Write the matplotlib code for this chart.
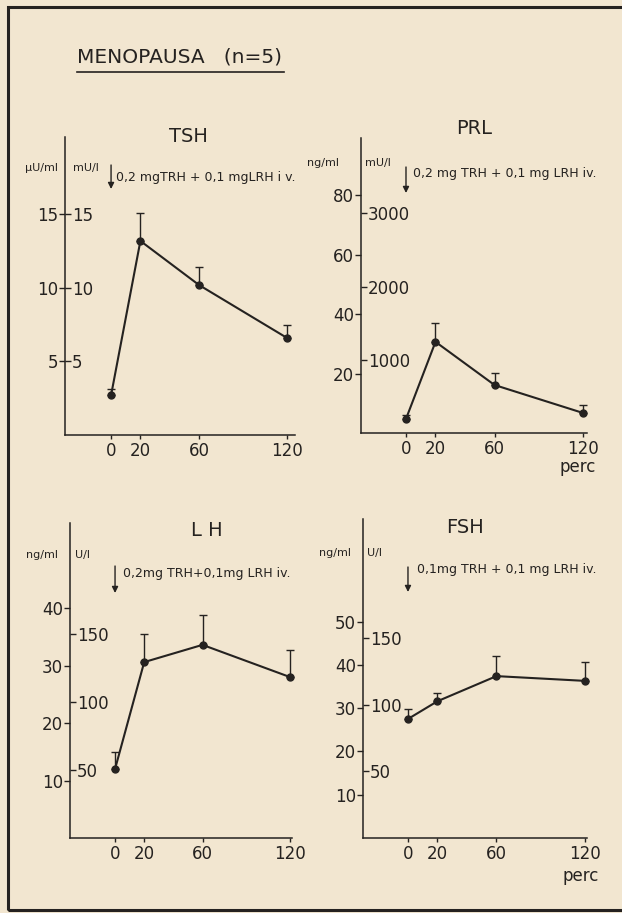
import matplotlib
matplotlib.use("Agg")
import matplotlib.pyplot as plt
from matplotlib.lines import Line2D
from matplotlib.patches import Rectangle
import numpy as np

W, H = 622, 913
BG = "#f2e6d0"
INK = "#252220"

plt.rcParams['font.family'] = ['DejaVu Sans']
plt.rcParams['text.color'] = INK

# ── data ──────────────────────────────────────────────────────────────
minutes = [0, 20, 60, 120]

tsh_mean = [2.7, 13.2, 10.2, 6.6]      # µU/ml
tsh_err = [0.4, 1.9, 1.2, 0.9]
prl_mean = [4.9, 30.8, 16.3, 6.9]      # ng/ml
prl_err = [1.3, 6.3, 4.0, 2.7]
lh_mean = [12.0, 30.6, 33.6, 28.0]     # ng/ml
lh_err = [3.0, 4.9, 5.2, 4.7]
fsh_mean = [27.5, 31.6, 37.4, 36.3]    # ng/ml
fsh_err = [2.3, 1.9, 4.6, 4.3]

tsh_ticks, tsh_ticks2 = [5, 10, 15], [5, 10, 15]
prl_ticks, prl_ticks2 = [20, 40, 60, 80], [1000, 2000, 3000]
lh_ticks, lh_ticks2 = [10, 20, 30, 40], [50, 100, 150]
fsh_ticks, fsh_ticks2 = [10, 20, 30, 40, 50], [50, 100, 150]

# ng/ml -> SI unit factor of the second scale
prl_k, lh_k, fsh_k, tsh_k = 40.5, 4.23, 3.25, 1.0


def fx(x):
    return x / W


def fy(y):
    return 1 - y / H


def ftext(x, y, s, size=9, ha='left', va='center', **kw):
    fig.text(fx(x), fy(y), s, fontsize=size, ha=ha, va=va, color=INK, **kw)


def panel(box, xlim, ylim, mean, err, ticks, ticks2, k, arrow):
    left, right, bottom, top = box
    ax = fig.add_axes([fx(left), fy(bottom), (right - left) / W, (bottom - top) / H])
    ax.set_facecolor('none')
    ax.set_xlim(*xlim)
    ax.set_ylim(*ylim)
    for s in ['top', 'right']:
        ax.spines[s].set_visible(False)
    for s in ['left', 'bottom']:
        ax.spines[s].set_color(INK)
        ax.spines[s].set_linewidth(1.1)
    ax.set_xticks(minutes)
    ax.set_yticks(ticks)
    ax.tick_params(colors=INK, labelcolor=INK, labelsize=12, length=4, width=1.0, pad=1)
    ax.tick_params(axis='x', length=3, pad=2)

    sec = ax.secondary_yaxis(0, functions=(lambda v: v * k, lambda v: v / k))
    sec.set_alignment('right')
    sec.spines['right'].set_visible(False)
    sec.set_yticks(ticks2)
    sec.tick_params(colors=INK, labelcolor=INK, labelsize=12, length=4, width=1.0, pad=1)

    ax.errorbar(minutes, mean, yerr=[np.zeros(len(err)), err], fmt='-o', color=INK,
                lw=1.5, ms=5, capsize=3, elinewidth=1.0, capthick=1.0, clip_on=False)

    # injection arrow at t = 0
    y_top, y_bot = arrow
    ax.annotate('', xy=(0, fy(y_bot)), xytext=(0, fy(y_top)),
                xycoords=('data', 'figure fraction'), textcoords=('data', 'figure fraction'),
                arrowprops=dict(arrowstyle='-|>', color=INK, lw=1.0, mutation_scale=9,
                                shrinkA=0, shrinkB=0))
    return ax


fig = plt.figure(figsize=(W / 100, H / 100), dpi=100)
fig.patch.set_facecolor(BG)

# frame of the page
fig.add_artist(Rectangle((fx(8), fy(910)), 1.2, fy(7) - fy(910), transform=fig.transFigure,
                         fill=False, ec=INK, lw=2.2))

ftext(77, 57, "MENOPAUSA   (n=5)", size=14.5, ha='left')
fig.add_artist(Line2D([fx(77), fx(284)], [fy(72), fy(72)], color=INK, lw=1.2))

# TSH
panel((65, 295, 435, 137), (-31.4, 125.4), (0, 20.27), tsh_mean, tsh_err,
      tsh_ticks, tsh_ticks2, tsh_k, (165, 189))
ftext(188, 137, "TSH", size=14, ha='center')
ftext(42, 168, "µU/ml", size=8, ha='center')
ftext(86, 168, "mU/l", size=8, ha='center')
ftext(116, 177, "0,2 mgTRH + 0,1 mgLRH i v.", size=9)

# PRL
panel((361, 587, 433.5, 138), (-30.5, 122.7), (0, 99.3), prl_mean, prl_err,
      prl_ticks, prl_ticks2, prl_k, (167, 193))
ftext(474, 128, "PRL", size=14, ha='center')
ftext(323, 163, "ng/ml", size=8, ha='center')
ftext(378, 163, "mU/l", size=8, ha='center')
ftext(413, 173, "0,2 mg TRH + 0,1 mg LRH iv.", size=9)
ftext(578, 467, "perc", size=12, ha='center')

# LH
panel((70, 292, 838, 523), (-30.9, 121.4), (0, 54.8), lh_mean, lh_err,
      lh_ticks, lh_ticks2, lh_k, (566, 593))
ftext(207, 530, "L H", size=14, ha='center')
ftext(42, 555, "ng/ml", size=8, ha='center')
ftext(83, 555, "U/l", size=8, ha='center')
ftext(123, 574, "0,2mg TRH+0,1mg LRH iv.", size=9)

# FSH
panel((363, 587, 838, 519), (-30.5, 121.4), (0, 73.7), fsh_mean, fsh_err,
      fsh_ticks, fsh_ticks2, fsh_k, (567, 592))
ftext(465, 527, "FSH", size=14, ha='center')
ftext(335, 553, "ng/ml", size=8, ha='center')
ftext(375, 553, "U/l", size=8, ha='center')
ftext(417, 570, "0,1mg TRH + 0,1 mg LRH iv.", size=9)
ftext(581, 876, "perc", size=12, ha='center')

fig.savefig("out.png", dpi=100, facecolor=BG)
